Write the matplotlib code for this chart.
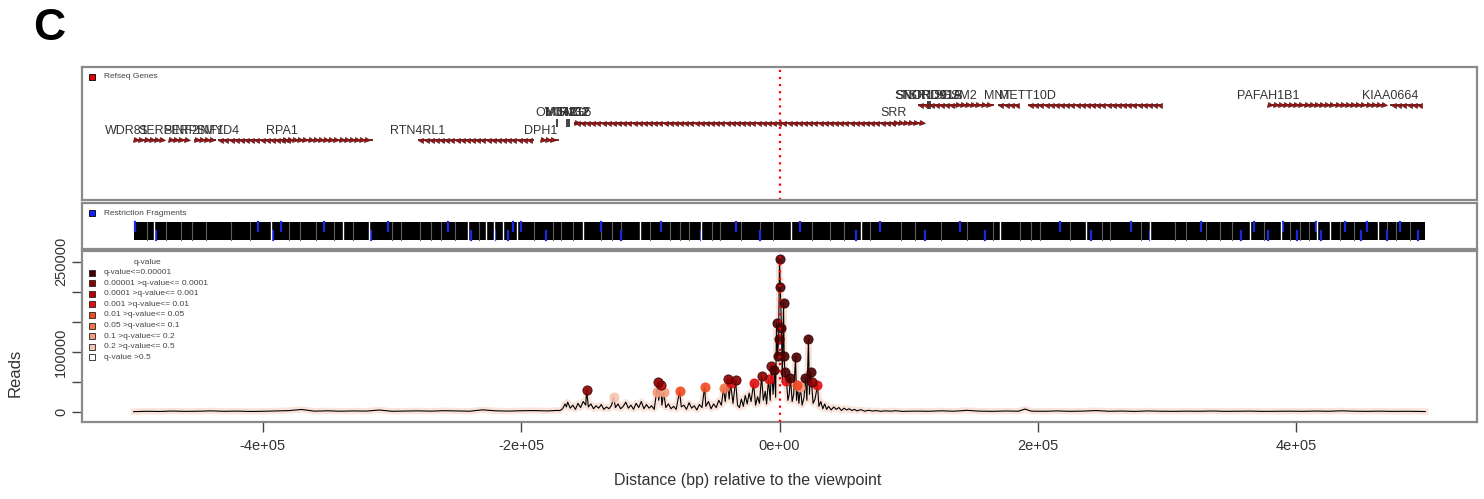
import numpy as np
import matplotlib
matplotlib.use("Agg")
import matplotlib.pyplot as plt
from matplotlib.patches import Rectangle

plt.rcParams['font.family'] = ['Liberation Sans', 'DejaVu Sans']

# ---------------- data ----------------
# genes (kb relative to viewpoint)
gene_names = ["WDR81", "SERPINF2", "SERPINF1", "SMYD4", "RPA1", "RTN4RL1", "DPH1",
              "OVCA2", "MIR132", "MIR212", "HIC1", "SMG6", "SRR",
              "SNORD91A", "SNORD91B", "TSR1", "SGSM2", "MNT", "METT10D", "PAFAH1B1", "KIAA0664"]
gene_start = [-505, -473, -453, -435, -385, -280, -185,
              -172.5, -164.5, -163.5, -159, -159, 88,
              115, 116, 107, 136, 169, 192, 378, 473]
gene_end = [-477, -458, -436, -378, -315, -190, -171,
            -171.5, -164, -163, -156, 88, 111,
            115.5, 116.5, 136, 166, 185, 296, 469, 497]
gene_strand = [1, 1, 1, -1, 1, -1, 1,
               1, 1, 1, 1, -1, 1,
               1, 1, -1, 1, -1, -1, 1, -1]
gene_row = [0, 0, 0, 0, 0, 0, 0,
            1, 1, 1, 1, 1, 1,
            2, 2, 2, 2, 2, 2, 2, 2]

# restriction fragments track (kb)
rf_gap_kb = [-484, -394, -338, -318, -241, -227, -221, -214, -203, -152, -108, -61, 9, 63,
             171, 237, 287, 364, 388, 416, 426, 463]
rf_blue_top_kb = [-499, -404, -386, -353, -303, -257, -206, -200, -138, -92, -34, 16, 78, 140,
                  217, 272, 326, 367, 390, 415, 438, 455, 480]
rf_blue_bot_kb = [-483, -392, -316, -239, -220, -210, -181, -123, -61, -15, 59, 113, 159, 241,
                  287, 357, 378, 401, 419, 450, 470, 494]
rf_grey_kb = [-490, -475, -463, -455, -444, -425, -410, -380, -371, -359, -345, -330, -300, -293,
              -278, -270, -262, -251, -233, -190, -175, -169, -160, -138, -130, -123, -100, -85,
              -77, -70, -52, -46, -30, -15, -5, 25, 39, 50, 70, 94, 105, 125, 145, 165, 186, 195,
              202, 225, 250, 256, 280, 306, 315, 330, 341, 350, 375, 395, 403, 410, 434, 445, 470,
              477, 488]

# 4C signal
left_kb = [-500, -490, -480, -470, -460, -450, -440, -430, -420, -410, -400, -390, -380, -370,
           -360, -350, -340, -330, -320, -310, -300, -290, -280, -270, -260, -250, -240, -230,
           -220, -210, -200, -190, -180, -172]
left_reads = [1200, 1800, 1500, 2200, 1600, 1900, 2500, 1700, 2100, 1500, 1800, 2300, 2900, 4800,
              2000, 2600, 1900, 2400, 2100, 3900, 1800, 2200, 2500, 2000, 2800, 2300, 1900, 4200,
              2600, 2100, 2700, 3000, 2400, 3200]

center_kb = [-170, -168, -166, -165, -164, -162, -160, -158, -156, -154, -152, -150, -149.3, -148,
             -146, -144, -142, -140, -138, -136, -134, -132, -130, -128.4, -127, -125, -123, -121,
             -119, -117, -115, -113, -111, -109, -107, -105, -103, -101, -99, -97, -95.2, -94.4,
             -93.5, -92.1, -91, -89.7, -88, -86, -84, -82, -80, -77.4, -76, -74, -72, -70, -68,
             -66, -64, -62, -60, -58, -57, -55, -53, -51, -49, -47, -45, -43.3, -42, -40.2, -39,
             -37.9, -36, -34, -32.5, -31, -29.5, -28, -26.5, -25, -23.5, -22, -20.1, -18.5, -17,
             -15.5, -13.9, -12.5, -11, -10, -8.5, -7.2, -6.2, -5, -3.9, -3.0, -2.3, -1.5, -0.7, 0,
             0.6, 1.5, 2.2, 3.1, 3.6, 4.2, 5.4, 6.5, 7.5, 8.5, 9.8, 11, 12.4, 13.2, 13.9, 15, 16.2,
             17.5, 19, 20.1, 21.2, 22.4, 23.2, 24, 24.8, 26, 27.5, 29.4, 30.5, 32, 33.5, 35, 36.5,
             38, 40, 42, 44, 46, 48, 50, 52, 54, 56, 58, 60, 63, 66, 69, 72, 75, 78, 82, 86, 90]
center_reads = [3000, 6000, 14000, 9000, 17000, 7000, 12000, 5000, 15000, 8000, 18000, 12000, 37000, 9000,
                14000, 6000, 11000, 7000, 13000, 5000, 9000, 6000, 12000, 25000, 8000, 14000, 6000, 10000,
                17000, 7000, 12000, 5000, 15000, 8000, 18000, 6000, 13000, 7000, 11000, 5000, 33000, 50000,
                20000, 45000, 12000, 33000, 8000, 14000, 6000, 10000, 5000, 35000, 9000, 12000, 5000, 16000, 7000,
                11000, 4000, 13000, 8000, 42000, 10000, 18000, 6000, 14000, 8000, 20000, 12000, 40000, 18000, 55000, 22000,
                48000, 15000, 53000, 12000, 8000, 22000, 10000, 28000, 14000, 32000, 18000, 48000, 12000, 26000,
                15000, 60000, 20000, 35000, 14000, 55000, 20000, 77000, 30000, 70000, 25000, 148000, 93000, 122000, 255000,
                208000, 140000, 50000, 182000, 93000, 67000, 52000, 20000, 30000, 57000, 18000, 30000, 92000, 20000, 45000, 15000, 42000,
                12000, 25000, 57000, 20000, 122000, 30000, 67000, 50000, 15000, 22000, 45000, 10000, 18000, 6000, 14000, 5000,
                10000, 4000, 9000, 5000, 8000, 3000, 7000, 4000, 6000, 3000, 5000, 2500, 4500, 2000, 3500, 2200, 3000, 1800, 2500, 2000, 2800]
# q-value class of each center point (0 = q<=1e-5 ... 7 = 0.2-0.5, 8 = not significant)
center_q = [8, 8, 8, 8, 8, 8, 8, 8, 8, 8, 8, 8, 1, 8,
            8, 8, 8, 8, 8, 8, 8, 8, 8, 7, 8, 8, 8, 8,
            8, 8, 8, 8, 8, 8, 8, 8, 8, 8, 8, 8, 6, 1,
            8, 2, 8, 6, 8, 8, 8, 8, 8, 4, 8, 8, 8, 8, 8,
            8, 8, 8, 8, 4, 8, 8, 8, 8, 8, 8, 8, 5, 8, 1, 8,
            3, 8, 1, 8, 8, 8, 8, 8, 8, 8, 8, 3, 8, 8,
            8, 1, 8, 8, 8, 3, 8, 1, 8, 0, 8, 0, 0, 0, 0,
            0, 0, 8, 0, 0, 0, 3, 8, 8, 0, 8, 8, 0, 8, 4, 8, 6,
            8, 8, 0, 8, 0, 8, 0, 1, 8, 8, 3, 8, 8, 8, 8, 8,
            8, 8, 8, 8, 8, 8, 8, 8, 8, 8, 8, 8, 8, 8, 8, 8, 8, 8, 8, 8, 8]

right_kb = [95, 105, 115, 125, 135, 145, 155, 165, 175, 185, 190, 195, 205, 215, 225, 235, 245, 255,
            265, 275, 285, 295, 305, 315, 325, 335, 345, 355, 365, 375, 385, 395, 405, 415, 425, 435,
            445, 455, 465, 475, 485, 495, 500]
right_reads = [1600, 2100, 1800, 2600, 1900, 3400, 2000, 1700, 2300, 1900, 5500, 2000, 1800, 2400, 1700,
               2100, 3000, 1800, 2200, 1600, 2400, 1900, 1700, 2000, 1800, 2300, 1700, 1900, 2100, 1600,
               1800, 2000, 1700, 2200, 1800, 2600, 1900, 1700, 2000, 1600, 1800, 1500, 1400]

q_labels = ["q-value<=0.00001", "0.00001 >q-value<= 0.0001", "0.0001 >q-value<= 0.001",
            "0.001 >q-value<= 0.01", "0.01 >q-value<= 0.05", "0.05 >q-value<= 0.1",
            "0.1 >q-value<= 0.2", "0.2 >q-value<= 0.5", "q-value >0.5"]
q_colors = ["#4a0000", "#8b0000", "#b80000", "#e01010", "#f04a20", "#f37448",
            "#f69c7c", "#f8c6b0", "#ffffff"]

xtick_vals = [-400000, -200000, 0, 200000, 400000]
xtick_labels = ["-4e+05", "-2e+05", "0e+00", "2e+05", "4e+05"]
ytick_vals = [0, 50000, 100000, 150000, 200000, 250000]
ytick_labels = ["0", "", "100000", "", "", "250000"]

# ---------------- figure ----------------
W_PX, H_PX = 1484, 499
fig = plt.figure(figsize=(W_PX / 100, H_PX / 100), dpi=100)
L = 82 / W_PX
WD = 1395 / W_PX


def box(top, bottom):
    return [L, (H_PX - bottom) / H_PX, WD, (bottom - top) / H_PX]


ax_g = fig.add_axes(box(67, 200))
ax_r = fig.add_axes(box(203, 249))
ax_d = fig.add_axes(box(251, 422))

XL = (-540000, 540000)
frame_col = "#8a8a8a"
for ax in (ax_g, ax_r, ax_d):
    ax.set_xlim(*XL)
    for s in ax.spines.values():
        s.set_color(frame_col)
        s.set_linewidth(1.6)
for ax in (ax_g, ax_r):
    ax.set_ylim(0, 1)
    ax.set_xticks([])
    ax.set_yticks([])

txt_col = "#333333"

# ---- gene track ----
row_y = [0.451, 0.579, 0.714]
lab_y = [0.519, 0.654, 0.782]
step = 4000
for name, s, e, st, r in zip(gene_names, gene_start, gene_end, gene_strand, gene_row):
    s_bp, e_bp = s * 1000, e * 1000
    y = row_y[r]
    cs, ce = max(s_bp, -500000), min(e_bp, 500000)
    if e_bp - s_bp < 3000:
        ax_g.plot([(s_bp + e_bp) / 2], [y], marker="|", ms=6, color="#222222", mew=1.2)
    else:
        ax_g.plot([cs, ce], [y, y], color="#7a1010", lw=1.3, solid_capstyle="butt")
        xs = np.arange(cs + step / 2, ce, step)
        ax_g.plot(xs, np.full(len(xs), y), ls="none", marker=">" if st > 0 else "<",
                  ms=3.6, mfc="#a01010", mec="#5a2020", mew=0.5)
    ax_g.text(s_bp, lab_y[r], name, ha="center", va="center", fontsize=9, color=txt_col)

ax_g.axvline(0, color="red", ls=(0, (1, 2.2)), lw=1.6)
ax_g.plot([0.0072], [(200 - 77) / 133], transform=ax_g.transAxes, marker="s", ms=4.5,
          mfc="#e00000", mec="black", mew=0.6, clip_on=False)
ax_g.text(0.0158, (200 - 77) / 133, "Refseq Genes", transform=ax_g.transAxes, fontsize=6,
          va="center", color="#444444")

# ---- restriction fragment track ----
yb, yt = (249 - 240) / 46, (249 - 222) / 46
ym = (yb + yt) / 2
ax_r.add_patch(Rectangle((-500000, yb), 1000000, yt - yb, color="black", lw=0))
for k in rf_grey_kb:
    ax_r.plot([k * 1000] * 2, [yb, yt], color="#5e5e5e", lw=0.8)
for k in rf_blue_top_kb:
    ax_r.plot([k * 1000] * 2, [ym, yt], color="#1a28e0", lw=1.6)
for k in rf_blue_bot_kb:
    ax_r.plot([k * 1000] * 2, [yb, ym], color="#1a28e0", lw=1.6)
for k in rf_gap_kb:
    ax_r.plot([k * 1000] * 2, [yb, yt], color="white", lw=1.0)
ax_r.plot([0.0072], [(249 - 213) / 46], transform=ax_r.transAxes, marker="s", ms=4.5,
          mfc="#1020ff", mec="black", mew=0.6, clip_on=False)
ax_r.text(0.0158, (249 - 213) / 46, "Restriction Fragments", transform=ax_r.transAxes,
          fontsize=6, va="center", color="#444444")

# ---- reads track ----
x_all = np.array(left_kb + center_kb + right_kb, dtype=float) * 1000
y_all = np.array(left_reads + center_reads + right_reads, dtype=float)
ax_d.plot(x_all, y_all, color="#f6cdbd", lw=4.5, alpha=0.55, zorder=1, solid_joinstyle="round")
ax_d.plot(x_all, y_all, color="black", lw=0.8, zorder=2)

cx = np.array(center_kb) * 1000
cy = np.array(center_reads)
cq = np.array(center_q)
for c in range(7, -1, -1):
    m = cq == c
    if m.any():
        ax_d.scatter(cx[m], cy[m], s=44, color=q_colors[c], edgecolors="#3a0000" if c < 3 else q_colors[c],
                     linewidths=0.6, alpha=0.9, zorder=3)

ax_d.axvline(0, color="red", ls=(0, (1, 2.2)), lw=1.6, zorder=4)
ax_d.set_ylim(-16000, 268000)
ax_d.set_xticks(xtick_vals)
ax_d.set_xticklabels(xtick_labels)
ax_d.set_yticks(ytick_vals)
ax_d.set_yticklabels(ytick_labels, rotation=90, va="center")
ax_d.tick_params(axis="both", length=7, width=1.0, color="#444444", labelcolor=txt_col,
                 labelsize=10.5)
ax_d.tick_params(axis="x", pad=5)
ax_d.tick_params(axis="y", pad=3)

# q-value legend
ax_d.text((147 - 82) / 1395, (422 - 262) / 171, "q-value", transform=ax_d.transAxes,
          fontsize=6, ha="center", va="center", color="#444444")
for i, (lab, col) in enumerate(zip(q_labels, q_colors)):
    yy = (422 - (272.5 + i * 10.6)) / 171
    ax_d.plot([(92 - 82) / 1395], [yy], transform=ax_d.transAxes, marker="s", ms=4.5,
              mfc=col, mec="#222222", mew=0.6, clip_on=False)
    ax_d.text((104 - 82) / 1395, yy, lab, transform=ax_d.transAxes, fontsize=6,
              va="center", color="#444444")

fig.text(748 / W_PX, 1 - 481 / H_PX, "Distance (bp) relative to the viewpoint",
         ha="center", va="center", fontsize=11.5, color=txt_col)
fig.text(15 / W_PX, 1 - 373 / H_PX, "Reads", rotation=90, ha="center", va="center",
         fontsize=12, color=txt_col)
fig.text(33 / W_PX, 1 - 28 / H_PX, "C", ha="left", va="center", fontsize=32,
         fontweight="bold", color="black")

fig.savefig("out.png", dpi=100)
